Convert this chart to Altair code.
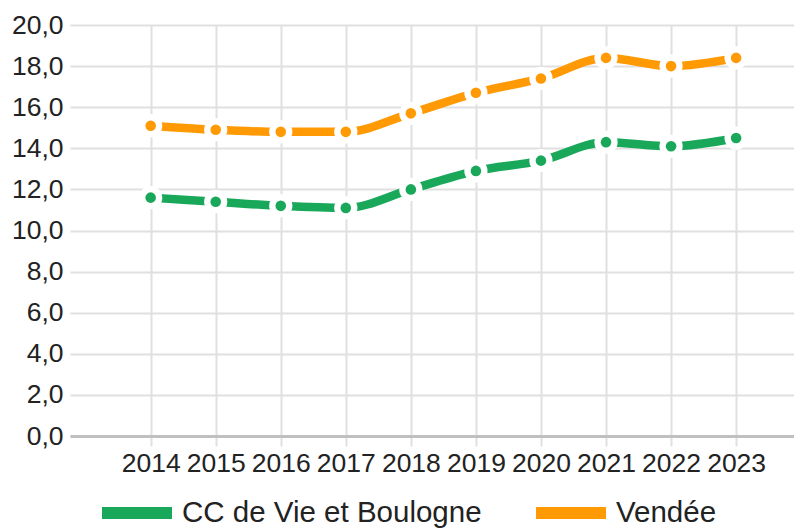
import altair as alt
import pandas as pd

years = [2014, 2015, 2016, 2017, 2018, 2019, 2020, 2021, 2022, 2023]
cc_vie_boulogne = [11.6, 11.4, 11.2, 11.1, 12.0, 12.9, 13.4, 14.3, 14.1, 14.5]
vendee = [15.1, 14.9, 14.8, 14.8, 15.7, 16.7, 17.4, 18.4, 18.0, 18.4]
series_names = ["CC de Vie et Boulogne", "Vendée"]
series_colors = ["#19a85a", "#ff9a05"]
y_ticks = [0, 2, 4, 6, 8, 10, 12, 14, 16, 18, 20]

rows = []
for name, vals in zip(series_names, [cc_vie_boulogne, vendee]):
    for yr, v in zip(years, vals):
        rows.append({"annee": yr, "valeur": v, "serie": name})
df = pd.DataFrame(rows)

FONT = "Liberation Sans"

x_enc = alt.X(
    "annee:Q",
    scale=alt.Scale(domain=[2012.76, 2023.89], nice=False, zero=False),
    axis=alt.Axis(
        values=years, format="d", title=None,
        labelFontSize=26.5, labelFont=FONT, labelColor="#222",
        labelPadding=4, labelFlush=False, labelOverlap=False,
        domainColor="#c0c0c0", domainWidth=3,
        tickColor="#e0e0e0", tickWidth=2, tickSize=10,
        grid=True, gridColor="#e0e0e0", gridWidth=2,
    ),
)
y_enc = alt.Y(
    "valeur:Q",
    scale=alt.Scale(domain=[0, 20], nice=False),
    axis=alt.Axis(
        values=y_ticks, title=None,
        labelExpr="replace(format(datum.value, '.1f'), '.', ',')",
        labelFontSize=26.5, labelFont=FONT, labelColor="#222",
        labelPadding=7, ticks=False, domain=False,
        grid=True, gridColor="#e0e0e0", gridWidth=2,
    ),
)
color_scale = alt.Scale(domain=series_names, range=series_colors)

lines = alt.Chart(df).mark_line(strokeWidth=8.5, interpolate="monotone").encode(
    x=x_enc, y=y_enc,
    color=alt.Color(
        "serie:N", scale=color_scale,
        legend=alt.Legend(
            title=None, orient="none", direction="horizontal",
            legendX=26, legendY=447, padding=0,
            symbolType="stroke", symbolSize=4900, symbolStrokeWidth=12,
            labelFontSize=29.5, labelFont=FONT, labelColor="#222",
            labelOffset=4, columnPadding=30, labelLimit=0,
        ),
    ),
    detail="serie:N",
)

halo = alt.Chart(df).mark_point(filled=True, shape="circle", opacity=1, size=540).encode(
    x="annee:Q", y="valeur:Q", color=alt.value("white"), detail="serie:N"
)

dots = alt.Chart(df).mark_point(filled=True, shape="circle", opacity=1, size=112).encode(
    x="annee:Q", y="valeur:Q",
    color=alt.Color("serie:N", scale=color_scale, legend=None),
)

chart = alt.layer(lines, halo, dots).properties(
    width=724, height=411,
    autosize=alt.AutoSizeParams(type="none"),
    padding={"left": 62, "top": 17, "right": 0, "bottom": 94},
).configure_view(stroke=None)

chart.save("out.html", embed_options={"renderer": "svg", "actions": False})
